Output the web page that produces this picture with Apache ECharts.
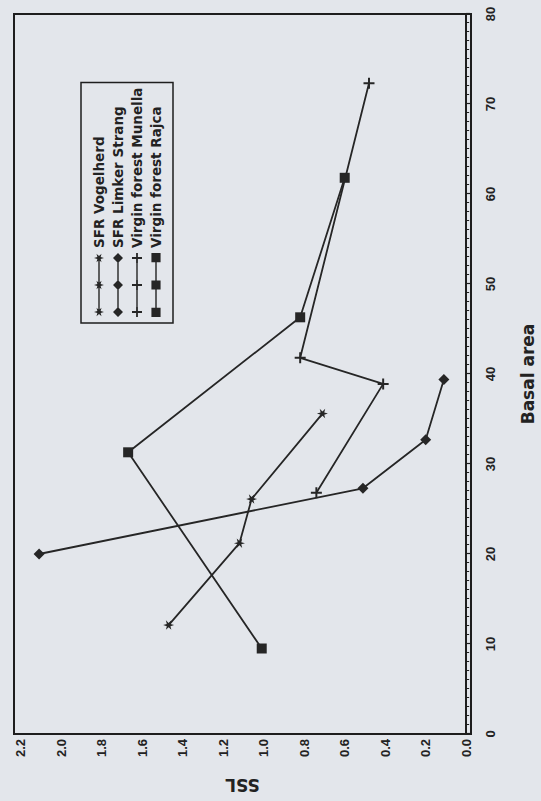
<!DOCTYPE html>
<html>
<head>
<meta charset="utf-8">
<script src="https://cdn.jsdelivr.net/npm/echarts@6/dist/echarts.min.js"></script>
<style>
  html, body { margin: 0; padding: 0; width: 541px; height: 801px; overflow: hidden; background: #e3e6eb; }
  /* the scan is rotated a quarter turn counter-clockwise */
  #chart {
    position: absolute; left: 0; top: 0;
    width: 801px; height: 541px;
    transform-origin: 0 0;
    transform: translateY(801px) rotate(-90deg);
  }
</style>
</head>
<body>
<div id="chart"></div>
<script>
// data
const seriesNames = ['SFR Vogelherd', 'SFR Limker Strang', 'Virgin forest Munella', 'Virgin forest Rajca'];
const vogelherdBA = [12.1, 21.2, 26.1, 35.6];
const vogelherdSSL = [1.47, 1.12, 1.06, 0.71];
const limkerBA = [20.0, 27.3, 32.7, 39.4];
const limkerSSL = [2.11, 0.51, 0.20, 0.11];
const munellaBA = [26.8, 38.9, 41.8, 72.3];
const munellaSSL = [0.74, 0.41, 0.82, 0.48];
const rajcaBA = [9.5, 31.3, 46.3, 61.8];
const rajcaSSL = [1.01, 1.67, 0.82, 0.60];
const baTicks = [0, 10, 20, 30, 40, 50, 60, 70, 80];
const sslTicks = [0, 0.2, 0.4, 0.6, 0.8, 1.0, 1.2, 1.4, 1.6, 1.8, 2.0, 2.2];

const ink = '#262626';

// marker shapes
function poly(pts) {
  return 'M' + pts.map(p => p[0].toFixed(2) + ' ' + p[1].toFixed(2)).join(' L') + ' Z ';
}
function star(cx, cy, R, r) {
  const pts = [];
  for (let i = 0; i < 12; i++) {
    const a = -Math.PI / 2 + i * Math.PI / 6;
    const d = i % 2 ? r : R;
    pts.push([cx + d * Math.cos(a), cy + d * Math.sin(a)]);
  }
  return poly(pts);
}
function plus(cx, cy, R, w) {
  return poly([[cx - w, cy - R], [cx + w, cy - R], [cx + w, cy - w], [cx + R, cy - w], [cx + R, cy + w],
    [cx + w, cy + w], [cx + w, cy + R], [cx - w, cy + R], [cx - w, cy + w], [cx - R, cy + w],
    [cx - R, cy - w], [cx - w, cy - w]]);
}
function diamond(cx, cy, R) {
  return poly([[cx, cy - R], [cx + R, cy], [cx, cy + R], [cx - R, cy]]);
}
function square(cx, cy, R) {
  return poly([[cx - R, cy - R], [cx + R, cy - R], [cx + R, cy + R], [cx - R, cy + R]]);
}
function bar(x0, x1, cy, t) {
  return poly([[x0, cy - t], [x1, cy - t], [x1, cy + t], [x0, cy + t]]);
}

const shapes = [
  (cx, cy) => star(cx, cy, 5, 1.9),
  (cx, cy) => diamond(cx, cy, 5),
  (cx, cy) => plus(cx, cy, 5, 0.9),
  (cx, cy) => square(cx, cy, 4.5),
];

// legend icon: line with three markers
function legendIcon(shape) {
  let d = bar(5, 59, 5, 0.7);
  [5, 32, 59].forEach(x => { d += shape(x, 5); });
  return 'path://' + d;
}

function pairs(xs, ys) {
  return xs.map((x, i) => [x, ys[i]]);
}

const seriesData = [
  pairs(vogelherdBA, vogelherdSSL),
  pairs(limkerBA, limkerSSL),
  pairs(munellaBA, munellaSSL),
  pairs(rajcaBA, rajcaSSL),
];

const myChart = echarts.init(document.getElementById('chart'), null, { renderer: 'svg', width: 801, height: 541 });

const option = {
  animation: false,
  backgroundColor: '#e3e6eb',
  grid: {
    left: 67, right: 14, top: 14, bottom: 64,
    show: true,
    borderColor: '#1e1e1e',
    borderWidth: 2,
  },
  legend: {
    orient: 'vertical',
    left: 478,
    top: 81,
    padding: [11, 5, 10, 6],
    borderColor: '#1e1e1e',
    borderWidth: 1.5,
    itemWidth: 64,
    itemHeight: 10,
    itemGap: 5,
    selectedMode: false,
    textStyle: { fontFamily: 'DejaVu Sans', fontWeight: 'bold', fontSize: 13.5, color: '#222', lineHeight: 14 },
    data: seriesNames.map((name, i) => ({ name, icon: legendIcon(shapes[i]) })),
  },
  xAxis: {
    type: 'value',
    min: 0,
    max: 80,
    interval: 10,
    name: 'Basal area',
    nameLocation: 'middle',
    nameGap: 48,
    nameTextStyle: { fontFamily: 'DejaVu Sans', fontWeight: 'bold', fontSize: 17, color: '#222' },
    axisLine: { show: true, lineStyle: { color: '#1e1e1e', width: 2 } },
    axisTick: { show: true, inside: false, length: 4, lineStyle: { color: '#1e1e1e', width: 1.2 } },
    minorTick: { show: true, splitNumber: 10, length: 3, lineStyle: { color: '#1e1e1e', width: 1 } },
    axisLabel: {
      customValues: baTicks,
      margin: 13,
      fontFamily: 'Liberation Sans', fontWeight: 'bold', fontSize: 13, color: '#222',
    },
    splitLine: { show: false },
  },
  yAxis: {
    type: 'value',
    min: -0.024,
    max: 2.234,
    name: 'SSL',
    nameLocation: 'middle',
    nameGap: 42,
    nameTextStyle: { fontFamily: 'DejaVu Sans', fontWeight: 'bold', fontSize: 17, color: '#222' },
    axisLine: { show: true, lineStyle: { color: '#1e1e1e', width: 2 } },
    axisTick: { show: false, customValues: sslTicks },
    axisLabel: {
      customValues: sslTicks,
      margin: 5,
      formatter: v => v.toFixed(1),
      fontFamily: 'Liberation Sans', fontWeight: 'bold', fontSize: 13, color: '#222',
    },
    splitLine: { show: false },
  },
  series: seriesNames.map((name, i) => ({
    name,
    type: 'line',
    data: seriesData[i],
    symbol: 'path://' + shapes[i](0, 0),
    symbolSize: i === 3 ? 10 : 11,
    symbolKeepAspect: true,
    itemStyle: { color: ink },
    lineStyle: { color: ink, width: 1.8 },
    emphasis: { disabled: true },
    z: 3,
  })),
};

myChart.setOption(option);
</script>
</body>
</html>
